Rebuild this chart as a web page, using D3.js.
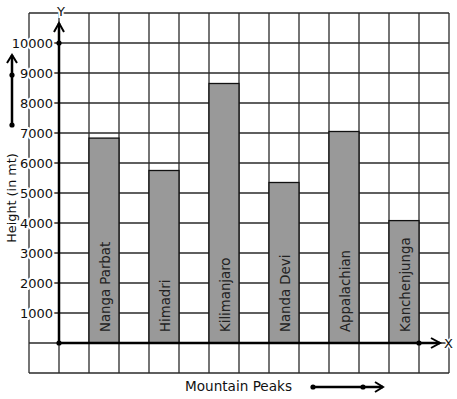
<!DOCTYPE html>
<html>
<head>
<meta charset="utf-8">
<script src="https://cdn.jsdelivr.net/npm/d3@7"></script>
<style>
  body { margin: 0; background: #fff; }
  text { font-family: "DejaVu Sans", sans-serif; fill: #111; }
</style>
</head>
<body>
<div id="chart"></div>
<script>
const peaks = ["Nanga Parbat", "Himadri", "Kilimanjaro", "Nanda Devi", "Appalachian", "Kanchenjunga"];
const heights = [6830, 5750, 8650, 5350, 7050, 4080];
const yTicks = [1000, 2000, 3000, 4000, 5000, 6000, 7000, 8000, 9000, 10000];
const xTitle = "Mountain Peaks";
const yTitle = "Height (in mt)";

const width = 457;
const height = 399;

const svg = d3.select("#chart")
	.append("svg")
	.attr("width", width)
	.attr("height", height);

// graph paper: 14 columns x 12 rows of 30px squares
const y = d3.scaleLinear().domain([-1000, 11000]).range([373, 13]);
const gx = d3.scaleLinear().domain([0, 14]).range([29, 449]);
const x = d3.scaleBand().domain(peaks).range([59, 449]).paddingInner(0.5).paddingOuter(0.5);

const grid = svg.append("g")
	.attr("stroke", "#2a2a2a")
	.attr("stroke-width", 1.3);

grid.selectAll("line.h")
	.data(d3.range(-1000, 11001, 1000))
	.enter()
	.append("line")
	.attr("x1", gx(0))
	.attr("x2", gx(14))
	.attr("y1", d => y(d))
	.attr("y2", d => y(d));

grid.selectAll("line.v")
	.data(d3.range(0, 15))
	.enter()
	.append("line")
	.attr("x1", d => gx(d))
	.attr("x2", d => gx(d))
	.attr("y1", y(11000))
	.attr("y2", y(-1000));

// bars
svg.selectAll("rect.bar")
	.data(peaks)
	.enter()
	.append("rect")
	.attr("class", "bar")
	.attr("x", d => x(d))
	.attr("width", x.bandwidth())
	.attr("y", (d, i) => y(heights[i]))
	.attr("height", (d, i) => y(0) - y(heights[i]))
	.attr("fill", "#999999")
	.attr("stroke", "#111")
	.attr("stroke-width", 1.3);

svg.selectAll("text.bar-label")
	.data(peaks)
	.enter()
	.append("text")
	.attr("class", "bar-label")
	.attr("transform", d => `translate(${x(d) + x.bandwidth() / 2 + 1},${y(0) - 11}) rotate(-90)`)
	.attr("dominant-baseline", "central")
	.attr("font-size", 13.3)
	.style("fill", "#222")
	.text(d => d);

// y tick labels with white backing
const ticks = svg.selectAll("g.tick")
	.data(yTicks)
	.enter()
	.append("g")
	.attr("transform", d => `translate(${gx(1) - 6},${y(d)})`);

ticks.append("text")
	.attr("text-anchor", "end")
	.attr("dominant-baseline", "central")
	.attr("font-size", 13)
	.attr("stroke", "#fff")
	.attr("stroke-width", 4)
	.attr("paint-order", "stroke")
	.text(d => d);

// axes
const axes = svg.append("g")
	.attr("stroke", "#000")
	.attr("fill", "none")
	.attr("stroke-width", 2.5);

axes.append("line")
	.attr("x1", gx(1)).attr("x2", gx(1))
	.attr("y1", y(0)).attr("y2", 23);
axes.append("path")
	.attr("stroke-width", 2)
	.attr("d", `M${gx(1) - 5},32 L${gx(1)},23 L${gx(1) + 5},32`);

axes.append("line")
	.attr("x1", gx(1)).attr("x2", 440)
	.attr("y1", y(0)).attr("y2", y(0));
axes.append("path")
	.attr("stroke-width", 2)
	.attr("d", `M431,${y(0) - 5} L440,${y(0)} L431,${y(0) + 5}`);

const dots = [[gx(1), y(10000)], [gx(1), y(0)], [gx(13), y(0)]];
svg.selectAll("circle.dot")
	.data(dots)
	.enter()
	.append("circle")
	.attr("cx", d => d[0])
	.attr("cy", d => d[1])
	.attr("r", 2.6)
	.attr("fill", "#000");

// axis letters
svg.append("text")
	.attr("x", gx(1) + 2)
	.attr("y", 16)
	.attr("text-anchor", "middle")
	.attr("font-size", 13)
	.attr("stroke", "#fff")
	.attr("stroke-width", 4)
	.attr("paint-order", "stroke")
	.text("Y");

svg.append("text")
	.attr("x", 444)
	.attr("y", 348)
	.attr("font-size", 13)
	.attr("stroke", "#fff")
	.attr("stroke-width", 3)
	.attr("paint-order", "stroke")
	.text("X");

// y title and its arrow
svg.append("text")
	.attr("transform", "translate(16,198) rotate(-90)")
	.attr("text-anchor", "middle")
	.attr("font-size", 12.8)
	.text(yTitle);

const side = svg.append("g").attr("stroke", "#000").attr("fill", "none").attr("stroke-width", 2.5);
side.append("line").attr("x1", 12).attr("x2", 12).attr("y1", 125).attr("y2", 55);
side.append("path").attr("stroke-width", 2).attr("d", "M7,63 L12,55 L17,63");
svg.append("circle").attr("cx", 12).attr("cy", 125).attr("r", 2.6).attr("fill", "#000");
svg.append("circle").attr("cx", 12).attr("cy", 75).attr("r", 2.6).attr("fill", "#000");

// x title and its arrow
svg.append("text")
	.attr("x", 185)
	.attr("y", 391)
	.attr("font-size", 13.6)
	.text(xTitle);

const bottom = svg.append("g").attr("stroke", "#000").attr("fill", "none").attr("stroke-width", 2.5);
bottom.append("line").attr("x1", 313).attr("x2", 383).attr("y1", 387).attr("y2", 387);
bottom.append("path").attr("stroke-width", 2).attr("d", "M375,382 L383,387 L375,392");
svg.append("circle").attr("cx", 313).attr("cy", 387).attr("r", 2.6).attr("fill", "#000");
svg.append("circle").attr("cx", 363).attr("cy", 387).attr("r", 2.6).attr("fill", "#000");
</script>
</body>
</html>
